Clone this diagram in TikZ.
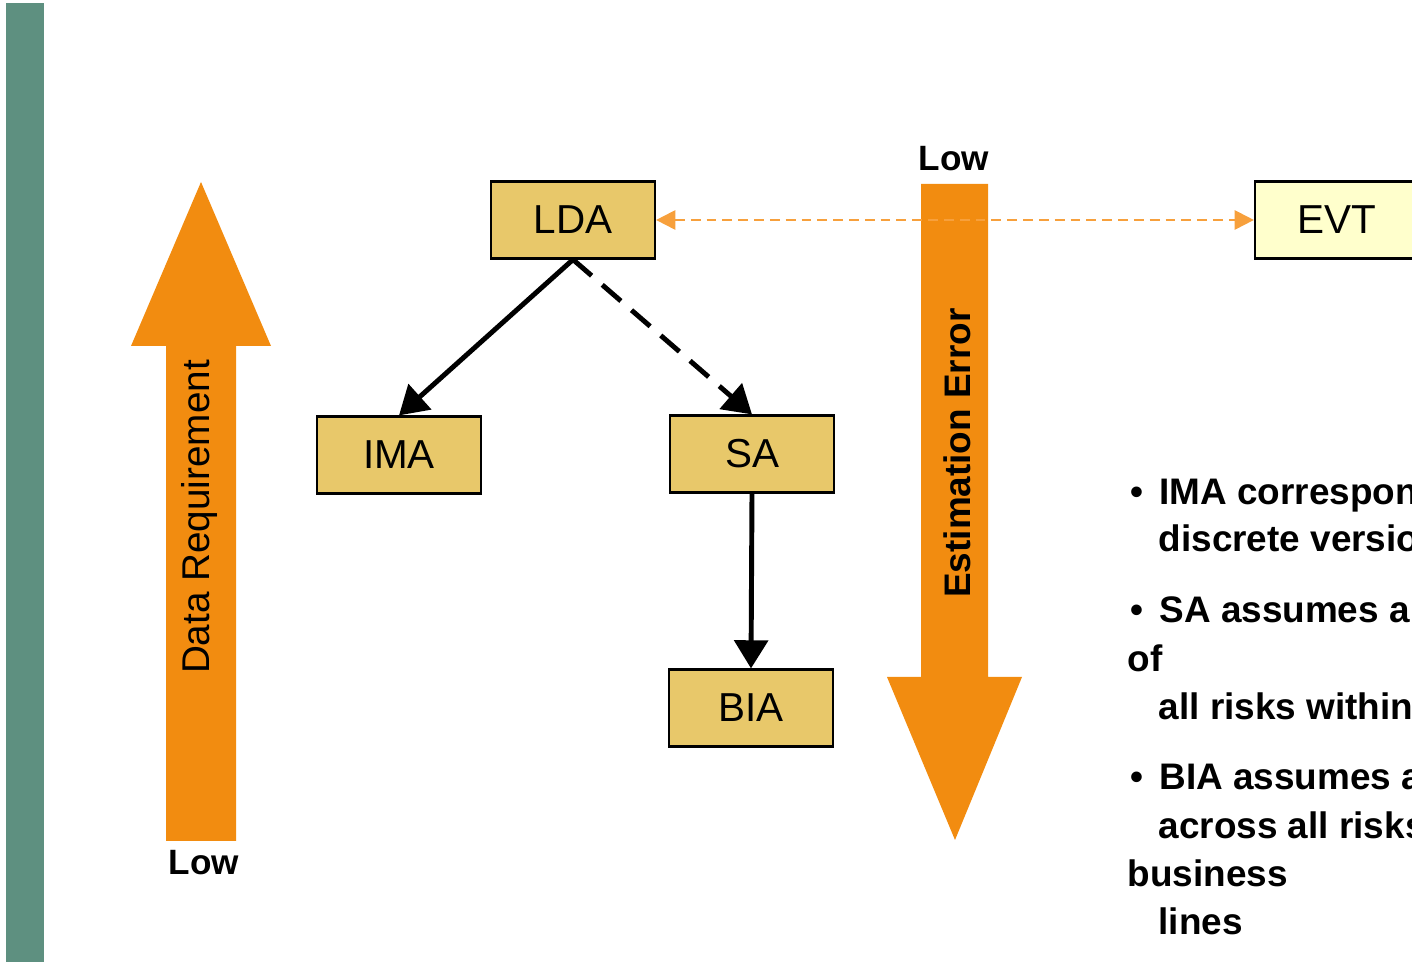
\documentclass[tikz,border=0pt]{standalone}
\usepackage{fontspec}
\setmainfont{Liberation Sans}
\usetikzlibrary{arrows.meta}
\definecolor{Sage}{HTML}{5E9080}
\definecolor{Amber}{HTML}{F28C10}
\definecolor{Sand}{HTML}{E8C86A}
\definecolor{Cream}{HTML}{FFFFCC}
\definecolor{Peach}{HTML}{F7A03C}

\begin{document}
\begin{tikzpicture}[x=0.01cm,y=-0.01cm,
    box/.style={draw=black,line width=0.6pt,fill=Sand,minimum width=1.64cm,
      minimum height=0.77cm,font=\fontsize{11.5}{13}\selectfont},
    arr/.style={-{Triangle[length=8pt,width=9.5pt]},line width=1.4pt},
    link/.style={{Triangle[length=5.5pt,width=5.5pt]}-{Triangle[length=5.5pt,width=5.5pt]},
      line width=0.6pt,color=Peach,dash pattern=on 2.8pt off 1.7pt},
    tag/.style={font=\bfseries\fontsize{10}{12}\selectfont},
    note/.style={font=\bfseries\fontsize{10.5}{13}\selectfont,anchor=base west,inner sep=0pt}
  ]
    \useasboundingbox (0,0) rectangle (1412,962);
    \clip (0,0) rectangle (1412,962);
    % side bar
    \fill[Sage] (6,3) rectangle (44,962);
    % the two big arrows
    \fill[Amber] (166,841) -- (166,346) -- (131,346) -- (201,182) -- (271,346)
      -- (236,346) -- (236,841) -- cycle;
    \fill[Amber] (921,184) -- (988,184) -- (988,677) -- (1022,677) -- (955,840)
      -- (887,677) -- (921,677) -- cycle;
    \node[rotate=90,font=\fontsize{11}{13}\selectfont] (dreq) at (199,517) {Data Requirement};
    \node[rotate=90,font=\bfseries\fontsize{10.5}{13}\selectfont] (eerr) at (957,453) {Estimation Error};
    \node[tag] (lowd) at (204,863) {Low};
    \node[tag] (lowe) at (954,159) {Low};
    % methods
    \node[box] (lda) at (573,220) {LDA};
    \node[box] (ima) at (399,455) {IMA};
    \node[box] (sa) at (752,454) {SA};
    \node[box] (bia) at (751,708) {BIA};
    \node[box,fill=Cream] (evt) at (1337,220) {EVT};
    \draw[arr] (lda.south) -- (ima.north);
    \draw[arr,dash pattern=on 7pt off 4pt] (lda.south) -- (sa.north);
    \draw[arr] (sa.south) -- (bia.north);
    \draw[link] (lda.east) -- (evt.west);
    % notes
    \foreach \x/\y/\t [count=\i] in {1130/505/{\textbullet\hspace{4.5pt}IMA corresponds},
        1158/552/{discrete version},1130/623/{\textbullet\hspace{4.5pt}SA assumes a},
        1127/672/{of},1158/720/{all risks within},1130/790/{\textbullet\hspace{4.5pt}BIA assumes a},
        1158/839/{across all risks},1127/887/{business},1158/935/{lines}}
      \node[note] (line\i) at (\x,\y) {\t};
  \end{tikzpicture}
\end{document}
